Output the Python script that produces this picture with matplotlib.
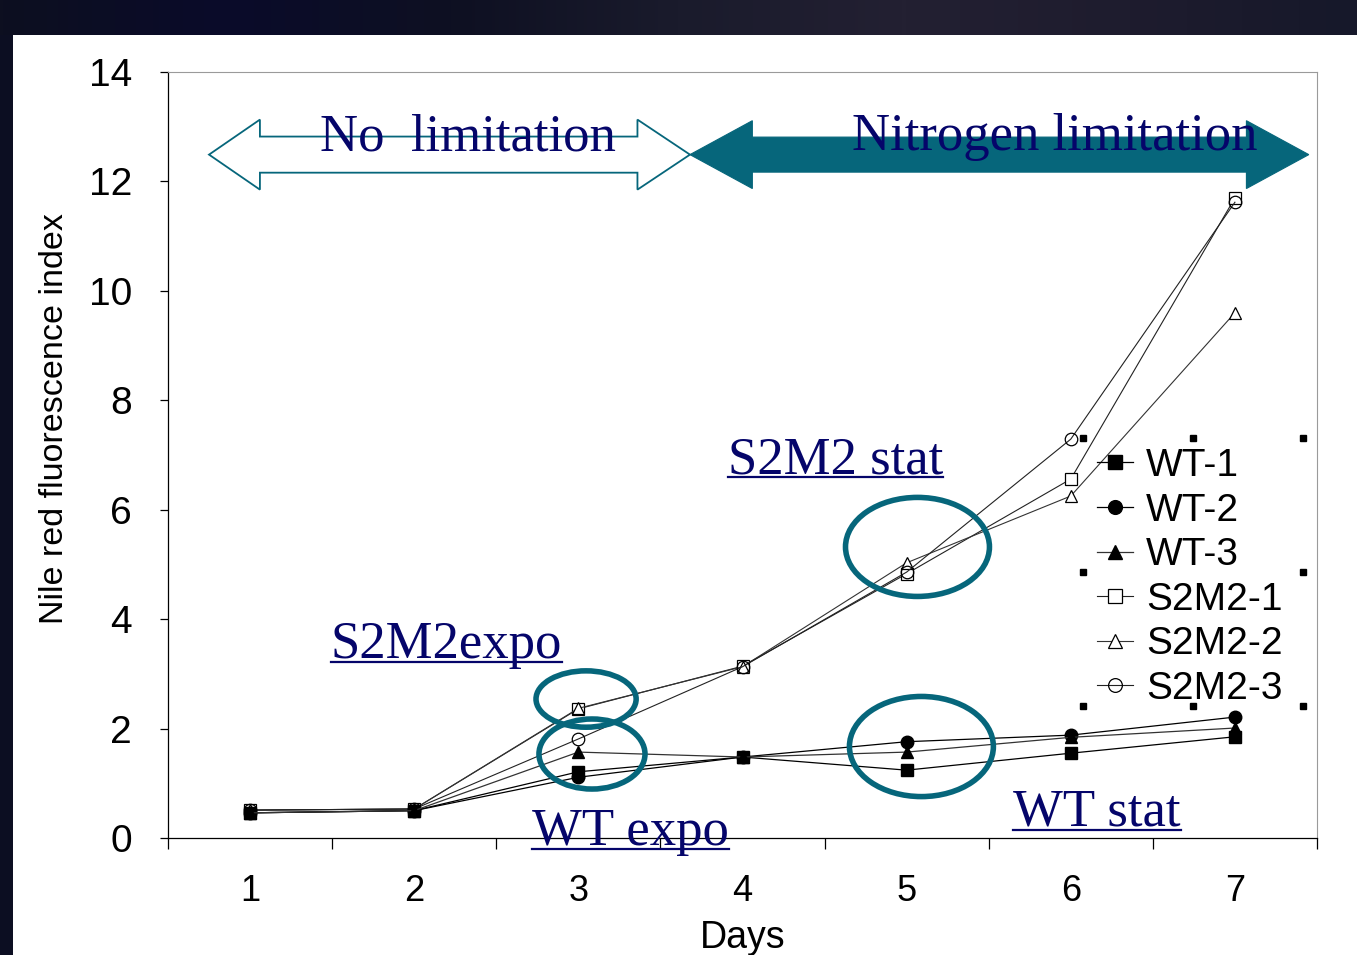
import numpy as np
import matplotlib
matplotlib.use("Agg")
import matplotlib.pyplot as plt
from matplotlib.patches import Polygon, Ellipse, Rectangle
from matplotlib.lines import Line2D

# ---------------- data ----------------
days = [1, 2, 3, 4, 5, 6, 7]
day_labels = ["1", "2", "3", "4", "5", "6", "7"]
wt1 = [0.46, 0.50, 1.21, 1.48, 1.24, 1.55, 1.85]
wt2 = [0.46, 0.50, 1.11, 1.48, 1.76, 1.88, 2.21]
wt3 = [0.46, 0.50, 1.57, 1.48, 1.57, 1.84, 2.01]
s2m2_1 = [0.51, 0.53, 2.36, 3.14, 4.83, 6.56, 11.70]
s2m2_2 = [0.51, 0.53, 2.37, 3.13, 5.03, 6.25, 9.60]
s2m2_3 = [0.51, 0.53, 1.81, 3.13, 4.86, 7.29, 11.62]
series_names = ["WT-1", "WT-2", "WT-3", "S2M2-1", "S2M2-2", "S2M2-3"]
y_ticks = [0, 2, 4, 6, 8, 10, 12, 14]

W, H = 1357, 955
fig = plt.figure(figsize=(W / 100, H / 100), dpi=100)
fig.patch.set_facecolor("#0d0f22")

# ---------- background (dark band + white slide area) ----------
bg = fig.add_axes([0, 0, 1, 1], zorder=-5)
bg.axis("off")
grad_cols = np.array([[13, 15, 32], [10, 11, 42], [14, 16, 34], [26, 27, 44],
                      [35, 32, 50], [30, 28, 46], [22, 24, 42]]) / 255.0
xs = np.linspace(0, 1, len(grad_cols))
xi = np.linspace(0, 1, 400)
grad = np.stack([np.interp(xi, xs, grad_cols[:, c]) for c in range(3)], axis=-1)
bg.imshow(grad[np.newaxis, :, :], extent=[0, W, 35, 0], aspect="auto")
bg.add_patch(Rectangle((0, 35), 13, H - 35, color="#0c0e22", lw=0))
bg.add_patch(Rectangle((13, 35), W - 13, H - 35, color="white", lw=0))
bg.set_xlim(0, W)
bg.set_ylim(H, 0)

# ---------------- main axes ----------------
L, R, T, B = 168, 1317, 72, 838
ax = fig.add_axes([L / W, (H - B) / H, (R - L) / W, (B - T) / H])
ax.set_facecolor("none")

serif = ["Liberation Serif", "DejaVu Serif"]
sans = ["Liberation Sans", "DejaVu Sans"]
teal = "#06667B"
navy = "#05056A"

ms = 9
ax.plot(days, wt1, color="black", lw=0.9, marker="s", ms=ms, mfc="black", mec="black", label=series_names[0], zorder=4)
ax.plot(days, wt2, color="black", lw=0.9, marker="o", ms=ms, mfc="black", mec="black", label=series_names[1], zorder=4)
ax.plot(days, wt3, color="#333333", lw=0.9, marker="^", ms=ms, mfc="black", mec="black", label=series_names[2], zorder=4)
ax.plot(days, s2m2_1, color="#222222", lw=0.8, marker="s", ms=ms, mfc="white", mec="black", mew=0.9, label=series_names[3], zorder=3)
ax.plot(days, s2m2_2, color="#333333", lw=0.8, marker="^", ms=ms, mfc="white", mec="black", mew=0.9, label=series_names[4], zorder=3)
ax.plot(days, s2m2_3, color="#222222", lw=0.8, marker="o", ms=ms, mfc="none", mec="black", mew=0.9, label=series_names[5], zorder=3)

ax.set_xlim(0.5, 7.5)
ax.set_ylim(0, 14)
ax.set_yticks(y_ticks)
ax.set_yticklabels([str(v) for v in y_ticks], fontsize=28, family=sans)
ax.set_xticks(np.arange(0.5, 8.0, 1.0))
ax.set_xticklabels([])
ax.set_xticks(days, minor=True)
ax.set_xticklabels(day_labels, minor=True, fontsize=26, family=sans)
ax.tick_params(axis="x", which="major", direction="out", length=8, width=0.9)
ax.tick_params(axis="x", which="minor", length=0, pad=26)
ax.tick_params(axis="y", direction="out", length=6, width=0.9, pad=20)
for s in ["left", "bottom"]:
    ax.spines[s].set_linewidth(0.9)
for s in ["top", "right"]:
    ax.spines[s].set_color("#9a9a9a")
    ax.spines[s].set_linewidth(0.8)
ax.set_xlabel("Days", fontsize=27, family=sans, labelpad=8)
ax.set_ylabel("Nile red fluorescence index", fontsize=24.5, family=sans)
ax.yaxis.set_label_coords(-0.085, 0.548)

# ---------------- arrows ----------------
def dbl_arrow(x0, x1, hx0, hx1, yc, hh, sh):
    return [(x0, yc), (hx0, yc + hh), (hx0, yc + sh), (hx1, yc + sh), (hx1, yc + hh),
            (x1, yc), (hx1, yc - hh), (hx1, yc - sh), (hx0, yc - sh), (hx0, yc - hh)]

ax.add_patch(Polygon(dbl_arrow(3.68, 7.45, 4.06, 7.07, 12.49, 0.62, 0.32),
                     closed=True, fc=teal, ec=teal, lw=0.8, clip_on=False, zorder=5))
ax.add_patch(Polygon(dbl_arrow(0.75, 3.68, 1.06, 3.36, 12.49, 0.64, 0.33),
                     closed=True, fc="none", ec=teal, lw=1.3, clip_on=False, zorder=6))
ax.add_patch(Rectangle((1.065, 12.17), 2.29, 0.65, fc="white", ec="none", zorder=5.5))

ax.text(2.33, 12.57, "No  limitation", ha="center", va="baseline", fontsize=38,
        family=serif, color=navy, zorder=7)
ax.text(5.90, 12.57, "Nitrogen limitation", ha="center", va="baseline", fontsize=38,
        family=serif, color=navy, zorder=7)

# ---------------- ellipses ----------------
for (cx, cy, ew, eh) in [(3.047, 2.54, 0.61, 1.03), (3.083, 1.535, 0.646, 1.28),
                         (5.066, 5.32, 0.877, 1.81), (5.09, 1.672, 0.877, 1.83)]:
    ax.add_patch(Ellipse((cx, cy), ew, eh, fc="none", ec=teal, lw=4.0, zorder=6, clip_on=False))

# ---------------- underlined labels ----------------
labels = [(3.912, 6.67, "S2M2 stat"), (1.493, 3.29, "S2M2expo"),
          (2.718, -0.13, "WT expo"), (5.648, 0.22, "WT stat")]
txts = []
for (lx, ly, s) in labels:
    t = ax.text(lx, ly, s, ha="left", va="baseline", fontsize=38, family=serif,
                color=navy, zorder=7, clip_on=False)
    txts.append((t, lx, ly))

# ---------------- legend ----------------
leg = ax.legend(loc="upper left", bbox_to_anchor=(1097 / W, 1 - 448 / H),
                bbox_transform=fig.transFigure, frameon=False, prop={"family": sans, "size": 28},
                handlelength=0.93, handletextpad=0.33, labelspacing=0.22, borderpad=0,
                borderaxespad=0, markerscale=1.1)
leg.set_zorder(8)

# selection handles around the legend
hx = [1083, 1193, 1303, 1083, 1303, 1083, 1193, 1303]
hy = [438, 438, 438, 572, 572, 706, 706, 706]
top = fig.add_axes([0, 0, 1, 1], zorder=10)
top.set_xlim(0, W)
top.set_ylim(H, 0)
top.axis("off")
top.patch.set_alpha(0)
top.plot(hx, hy, ls="none", marker="s", ms=3.8, color="black")

# underline the labels (needs rendered extents)
fig.canvas.draw()
renderer = fig.canvas.get_renderer()
for (t, lx, ly) in txts:
    bb = t.get_window_extent(renderer)
    _, yb = ax.transData.transform((lx, ly))
    y_ul = yb - 4
    fig.add_artist(Line2D([bb.x0 / W, bb.x1 / W], [y_ul / H, y_ul / H], color=navy, lw=1.6, zorder=9))

fig.savefig("out.png", dpi=100, facecolor=fig.get_facecolor())
